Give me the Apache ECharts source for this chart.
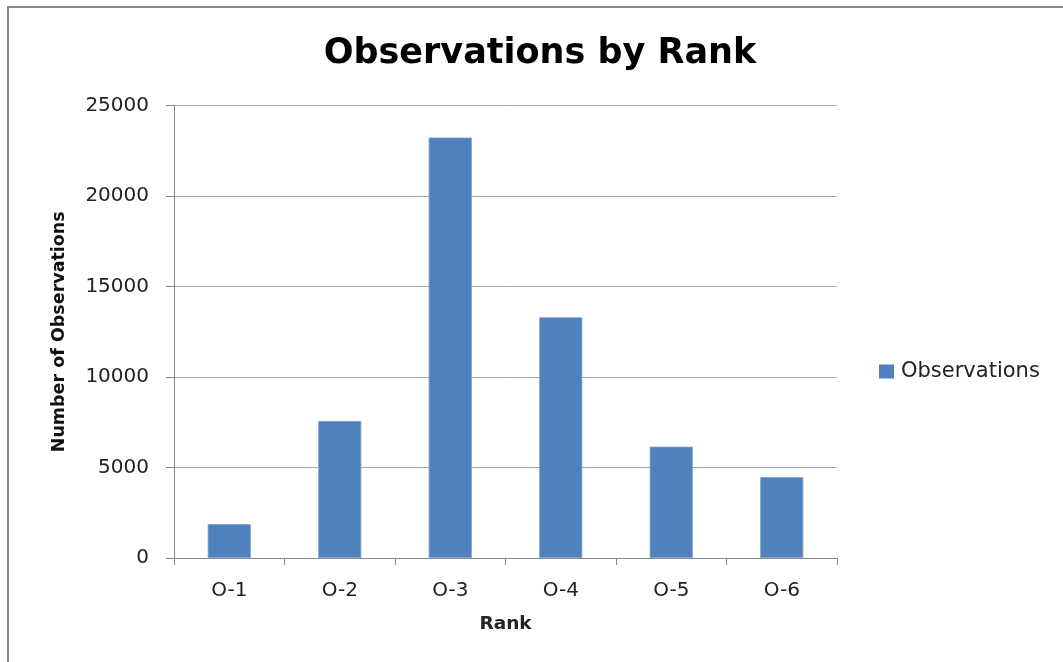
<!DOCTYPE html>
<html>
<head>
<meta charset="utf-8">
<script src="https://cdn.jsdelivr.net/npm/echarts@6/dist/echarts.min.js"></script>
<style>
html,body{margin:0;padding:0;background:#fff;}
#chart{width:1063px;height:662px;position:absolute;left:0;top:0;}
#frame{position:absolute;left:7px;top:6px;width:1100px;height:700px;border-left:2px solid #888;border-top:2px solid #888;pointer-events:none;}
</style>
</head>
<body>
<div id="chart"></div>
<div id="frame"></div>
<script>
const categories = ['O-1','O-2','O-3','O-4','O-5','O-6'];
const observations = [1870, 7570, 23230, 13300, 6150, 4470];
const seriesName = 'Observations';
const titleText = 'Observations by Rank';
const xAxisName = 'Rank';
const yAxisName = 'Number of Observations';

const chart = echarts.init(document.getElementById('chart'), null, {renderer:'canvas'});
const font = 'DejaVu Sans';
chart.setOption({
  animation:false,
  backgroundColor:'#fff',
  title:{
    text:titleText, left:535, top:31, textAlign:'center',
    textStyle:{fontFamily:font, fontWeight:'bold', fontSize:35, color:'#000'}
  },
  legend:{
    data:[seriesName], left:879, top:361, orient:'vertical', padding:0,
    itemWidth:15, itemHeight:14, itemGap:8,
    icon:'rect',
    itemStyle:{borderWidth:0},
    textStyle:{fontFamily:font, fontSize:21, color:'#222', padding:[0,0,0,2]}
  },
  grid:{left:174, right:226, top:105.5, bottom:104, containLabel:false},
  xAxis:{
    type:'category', data:categories,
    name:xAxisName, nameLocation:'middle', nameGap:57,
    nameTextStyle:{fontFamily:font, fontWeight:'bold', fontSize:18.5, color:'#222'},
    axisLine:{lineStyle:{color:'#888', width:1}},
    axisTick:{show:true, alignWithLabel:false, length:7, lineStyle:{color:'#888'}},
    axisLabel:{fontFamily:font, fontSize:20, color:'#222', margin:23},
    splitLine:{show:false}
  },
  yAxis:{
    type:'value', min:0, max:25000, interval:5000,
    name:yAxisName, nameLocation:'middle', nameGap:106, nameRotate:90,
    nameTextStyle:{fontFamily:font, fontWeight:'bold', fontSize:17.5, color:'#111'},
    axisLine:{show:true, lineStyle:{color:'#888', width:1}},
    axisTick:{show:true, length:8, inside:false, lineStyle:{color:'#888'}},
    axisLabel:{fontFamily:font, fontSize:20, color:'#222', margin:25, formatter:function(v){return String(v);}},
    splitLine:{show:true, lineStyle:{color:'#a6a6a6', width:1}}
  },
  series:[{
    name:seriesName, type:'bar', data:observations,
    barWidth:'39%',
    itemStyle:{color:'#4F81BD', borderColor:'#7ea0cc', borderWidth:0.8}
  }]
});
</script>
</body>
</html>
